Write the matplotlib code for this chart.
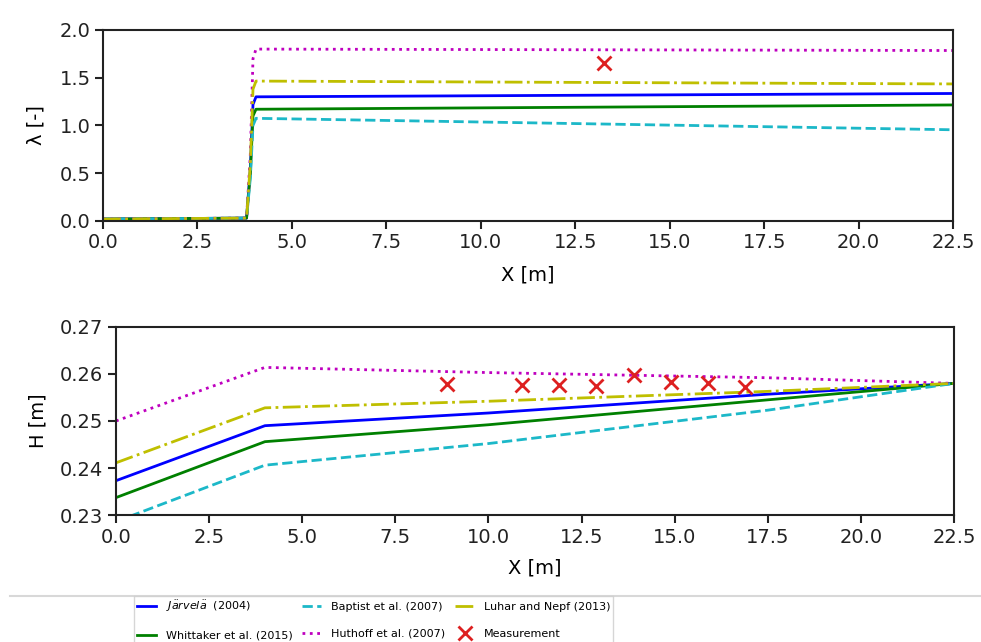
import matplotlib
matplotlib.use("Agg")
import matplotlib.pyplot as plt
from matplotlib.lines import Line2D
from matplotlib.ticker import FormatStrFormatter

# ---- data ----
# upper panel: vegetation parameter lambda along the flume
x_lam = [0.0, 3.8, 3.9, 3.97, 4.05, 22.5]
lam_jarvela = [0.02, 0.03, 0.55, 1.22, 1.30, 1.335]
lam_whittaker = [0.02, 0.03, 0.50, 1.10, 1.17, 1.215]
lam_baptist = [0.02, 0.03, 0.45, 1.00, 1.075, 0.955]
lam_huthoff = [0.02, 0.03, 0.70, 1.70, 1.80, 1.785]
lam_luhar = [0.02, 0.03, 0.60, 1.38, 1.465, 1.435]
lam_meas_x = [13.25]
lam_meas_y = [1.65]

# lower panel: water depth H
x_h = [0.0, 4.0, 10.0, 17.5, 22.5]
h_jarvela = [0.2373, 0.2490, 0.2517, 0.2557, 0.2580]
h_whittaker = [0.2337, 0.2456, 0.2492, 0.2545, 0.2580]
h_baptist = [0.2286, 0.2406, 0.2452, 0.2523, 0.2580]
h_huthoff = [0.2500, 0.2614, 0.2603, 0.2592, 0.2580]
h_luhar = [0.2411, 0.2528, 0.2542, 0.2563, 0.2580]
h_meas_x = [8.9, 10.9, 11.9, 12.9, 13.9, 14.9, 15.9, 16.9]
h_meas_y = [0.2578, 0.2576, 0.2576, 0.2575, 0.2597, 0.2583, 0.2581, 0.2572]

xticks = [0, 2.5, 5, 7.5, 10, 12.5, 15, 17.5, 20, 22.5]
labels = ["$\\it{J\\ddot{a}rvel\\ddot{a}}$  (2004)", "Whittaker et al. (2015)",
          "Baptist et al. (2007)", "Huthoff et al. (2007)",
          "Luhar and Nepf (2013)", "Measurement"]

styles = {
    "jarvela": dict(color="b", ls="-", lw=2),
    "whittaker": dict(color="g", ls="-", lw=2),
    "baptist": dict(color="#1cb8c8", ls="--", lw=2),
    "huthoff": dict(color="m", ls=":", lw=2),
    "luhar": dict(color="y", ls="-.", lw=2),
}
meas_style = dict(color="#dd2020", marker="x", ls="none", ms=10, mew=2)

plt.rcParams["font.size"] = 14
plt.rcParams["axes.linewidth"] = 1.5

fig = plt.figure(figsize=(9.81, 6.42), dpi=100)
ax1 = fig.add_axes([0.105, 0.6558, 0.8665, 0.2975])
ax2 = fig.add_axes([0.1182, 0.1978, 0.8543, 0.2929])

ax1.plot(x_lam, lam_jarvela, **styles["jarvela"])
ax1.plot(x_lam, lam_whittaker, **styles["whittaker"])
ax1.plot(x_lam, lam_baptist, **styles["baptist"])
ax1.plot(x_lam, lam_huthoff, **styles["huthoff"])
ax1.plot(x_lam, lam_luhar, **styles["luhar"])
ax1.plot(lam_meas_x, lam_meas_y, **meas_style)
ax1.set_xlim(0, 22.5)
ax1.set_ylim(0, 2.0)
ax1.set_yticks([0.0, 0.5, 1.0, 1.5, 2.0])
ax1.set_xticks(xticks)
ax1.set_xlabel("X [m]")
ax1.set_ylabel("λ [-]")
ax1.xaxis.set_label_coords(0.5, -0.235)
ax1.yaxis.set_label_coords(-0.068, 0.5)

h1, = ax2.plot(x_h, h_jarvela, **styles["jarvela"])
h2, = ax2.plot(x_h, h_whittaker, **styles["whittaker"])
h3, = ax2.plot(x_h, h_baptist, **styles["baptist"])
h4, = ax2.plot(x_h, h_huthoff, **styles["huthoff"])
h5, = ax2.plot(x_h, h_luhar, **styles["luhar"])
h6, = ax2.plot(h_meas_x, h_meas_y, **meas_style)
ax2.set_xlim(0, 22.5)
ax2.set_ylim(0.23, 0.27)
ax2.set_yticks([0.23, 0.24, 0.25, 0.26, 0.27])
ax2.set_xticks(xticks)
ax2.set_xlabel("X [m]")
ax2.set_ylabel("H [m]")
ax2.xaxis.set_label_coords(0.5, -0.23)
ax2.yaxis.set_label_coords(-0.082, 0.5)

for ax in (ax1, ax2):
    ax.tick_params(length=5.5, width=1.5, colors="#222222")
    ax.xaxis.set_major_formatter(FormatStrFormatter("%.1f"))
    for sp in ax.spines.values():
        sp.set_color("#222222")

ax2.yaxis.set_major_formatter(FormatStrFormatter("%.2f"))

# light separator line above the legend strip
fig.add_artist(Line2D([0.01, 1.0], [0.0715, 0.0715], color="#d8d8d8", lw=1.5))

leg = fig.legend([h1, h2, h3, h4, h5, h6], labels, ncol=3,
                 loc="upper left", bbox_to_anchor=(0.137, 0.0715),
                 fontsize=8, handlelength=1.7, handletextpad=0.9,
                 columnspacing=0.9, labelspacing=1.55, fancybox=False,
                 edgecolor="#cccccc", borderpad=0.2, borderaxespad=0)

fig.savefig("out.png", dpi=100)
